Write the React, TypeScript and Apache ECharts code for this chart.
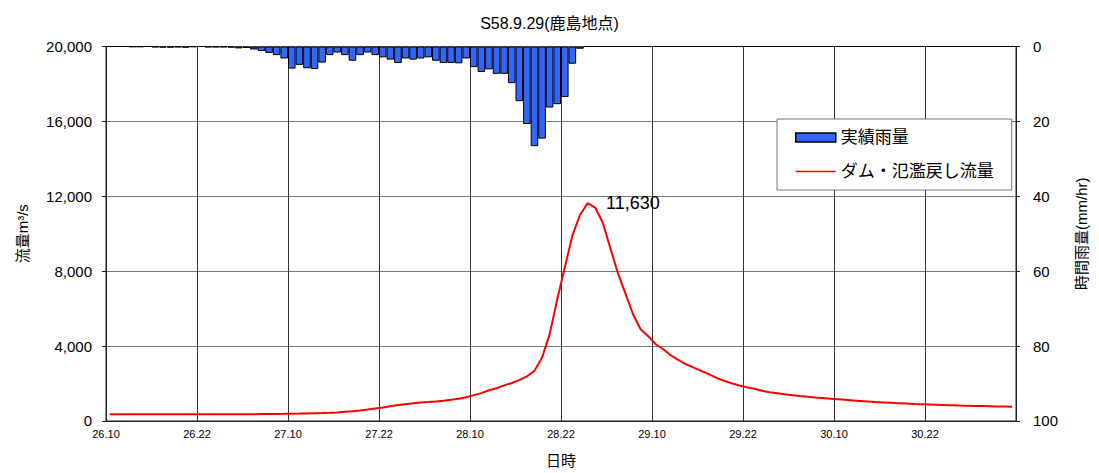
import React, { useEffect, useRef } from "react";
import * as echarts from "echarts";

const TITLE = "S58.9.29(鹿島地点)";
const START_DAY = 26;
const START_HOUR = 10;
const HOURS = 120;
const tickLabels = ["26.10", "26.22", "27.10", "27.22", "28.10", "28.22", "29.10", "29.22", "30.10", "30.22", ""];

// hourly rainfall (mm/hr)
const rain = [
  0, 0, 0, 0.1, 0.1, 0, 0.2, 0.3, 0.3, 0.2,
  0.3, 0.1, 0, 0.2, 0.2, 0.2, 0.3, 0.5, 0.4, 0.8,
  1.2, 1.7, 2.3, 3.2, 5.9, 4.9, 5.8, 6.0, 4.3, 2.3,
  1.6, 2.3, 3.8, 2.3, 1.6, 2.3, 2.9, 3.5, 4.4, 3.2,
  3.5, 3.2, 2.9, 3.8, 4.4, 4.4, 4.5, 3.2, 5.5, 6.8,
  6.1, 7.3, 7.3, 9.8, 14.6, 20.7, 26.6, 24.6, 16.3, 15.4,
  13.5, 4.6, 0.6, 0, 0, 0, 0, 0, 0, 0,
  0, 0, 0, 0, 0, 0, 0, 0, 0, 0,
  0, 0, 0, 0, 0, 0, 0, 0, 0, 0,
  0, 0, 0, 0, 0, 0, 0, 0, 0, 0,
  0, 0, 0, 0, 0, 0, 0, 0, 0, 0,
  0, 0, 0, 0, 0, 0, 0, 0, 0, 0,
];

// hourly discharge (m3/s)
const flow = [
  360, 360, 360, 360, 360, 360, 360, 360, 360, 360,
  360, 360, 360, 360, 360, 360, 360, 360, 362, 365,
  370, 375, 380, 385, 392, 398, 405, 415, 425, 440,
  460, 490, 520, 560, 610, 670, 720, 790, 850, 900,
  950, 990, 1010, 1040, 1080, 1130, 1190, 1270, 1380, 1490,
  1640, 1750, 1900, 2030, 2180, 2380, 2677, 3386, 4627, 6490,
  8200, 9900, 11000, 11630, 11400, 10600, 9240, 7900, 6800, 5700,
  4900, 4530, 4100, 3830, 3500, 3250, 3030, 2850, 2680, 2500,
  2300, 2150, 2020, 1900, 1800, 1720, 1620, 1530, 1480, 1430,
  1380, 1330, 1300, 1260, 1230, 1190, 1160, 1130, 1100, 1070,
  1040, 1010, 990, 970, 950, 930, 910, 895, 880, 865,
  850, 840, 825, 815, 805, 795, 785, 775, 768, 760,
];

const PEAK_LABEL = "11,630";

const hours: string[] = [];
for (let i = 0; i < HOURS; i++) {
  const t = START_HOUR + i;
  hours.push(`${START_DAY + Math.floor(t / 24)}.${t % 24}`);
}

const FONT = "'Liberation Sans', 'Noto Sans CJK JP', sans-serif";

export default function App() {
  const ref = useRef<HTMLDivElement>(null);
  useEffect(() => {
    document.body.style.margin = "0";
    document.body.style.overflow = "hidden";
    if (!ref.current) return;
    const chart = echarts.init(ref.current, undefined, { renderer: "svg" });
    const peakVal = Math.max(...flow);
    const peakIdx = flow.indexOf(peakVal);
    chart.setOption({
      animation: false,
      textStyle: { fontFamily: FONT },
      title: {
        text: TITLE,
        left: "center",
        top: 10,
        textStyle: { fontSize: 16, fontWeight: "normal", color: "#000", fontFamily: FONT },
      },
      grid: {
        left: 106,
        top: 46.5,
        width: 910,
        height: 375.5,
        show: true,
        borderColor: "#222",
        borderWidth: 1,
        backgroundColor: "#fff",
      },
      legend: {
        orient: "vertical",
        left: 777,
        top: 119,
        padding: [10, 18, 10, 18],
        itemGap: 17,
        itemWidth: 40,
        itemHeight: 9,
        backgroundColor: "#fff",
        borderColor: "#777",
        borderWidth: 1,
        textStyle: { fontSize: 17, color: "#000", fontFamily: FONT },
        data: [
          {
            name: "実績雨量",
            icon: "rect",
            itemStyle: { color: "#3366FF", borderColor: "#000", borderWidth: 1.5 },
          },
          {
            name: "ダム・氾濫戻し流量",
            icon: "path://M0 0H40V1.5H0Z",
            itemStyle: { color: "#FF0000", borderWidth: 0 },
            lineStyle: { color: "#FF0000", width: 0 },
          },
        ],
      },
      xAxis: [
        {
          type: "value",
          min: 0,
          max: HOURS,
          interval: 12,
          name: "日時",
          nameLocation: "middle",
          nameGap: 32,
          nameTextStyle: { fontSize: 15, color: "#000", fontFamily: FONT },
          axisLine: { show: true, lineStyle: { color: "#222" } },
          axisTick: { show: false },
          axisLabel: {
            fontSize: 11,
            color: "#000",
            margin: 8,
            formatter: (v: number) => tickLabels[Math.round(v / 12)] ?? "",
          },
          splitLine: { show: true, lineStyle: { color: "#333", width: 1 } },
        },
        {
          type: "category",
          data: hours,
          boundaryGap: true,
          show: false,
        },
      ],
      yAxis: [
        {
          type: "value",
          min: 0,
          max: 20000,
          interval: 4000,
          position: "left",
          name: "流量m³/s",
          nameLocation: "middle",
          nameRotate: 90,
          nameGap: 76,
          nameTextStyle: { fontSize: 15, color: "#000", fontFamily: FONT },
          axisLine: { show: true, lineStyle: { color: "#222" } },
          axisTick: { show: true, length: 4, lineStyle: { color: "#222" } },
          axisLabel: {
            fontSize: 15,
            color: "#000",
            margin: 14,
            formatter: (v: number) => v.toLocaleString("en-US"),
          },
          splitLine: { show: true, lineStyle: { color: "#777", width: 1.2 } },
        },
        {
          type: "value",
          min: 0,
          max: 100,
          interval: 20,
          inverse: true,
          position: "right",
          name: "時間雨量(mm/hr)",
          nameLocation: "middle",
          nameRotate: 90,
          nameGap: 58,
          nameTextStyle: { fontSize: 15, color: "#000", fontFamily: FONT },
          axisLine: { show: true, lineStyle: { color: "#222" } },
          axisTick: { show: true, length: 4, lineStyle: { color: "#222" } },
          axisLabel: { fontSize: 15, color: "#000", margin: 17 },
          splitLine: { show: false },
        },
      ],
      series: [
        {
          name: "実績雨量",
          type: "bar",
          xAxisIndex: 1,
          yAxisIndex: 1,
          data: rain,
          barCategoryGap: "0%",
          itemStyle: { color: "#3366FF", borderColor: "#000", borderWidth: 1 },
        },
        {
          name: "ダム・氾濫戻し流量",
          type: "line",
          xAxisIndex: 1,
          yAxisIndex: 0,
          data: flow,
          showSymbol: false,
          symbol: "none",
          lineStyle: { color: "#FF0000", width: 2 },
          itemStyle: { color: "#FF0000" },
          markPoint: {
            symbol: "circle",
            symbolSize: 1,
            itemStyle: { color: "rgba(0,0,0,0)" },
            label: {
              show: true,
              position: "right",
              distance: 18,
              color: "#000",
              fontSize: 18,
              fontFamily: FONT,
              formatter: PEAK_LABEL,
            },
            data: [{ coord: [hours[peakIdx], peakVal] }],
          },
        },
      ],
    });
    return () => chart.dispose();
  }, []);
  return (
    <div
      ref={ref}
      style={{ position: "fixed", left: 0, top: 0, width: 1099, height: 473, background: "#fff" }}
    />
  );
}
